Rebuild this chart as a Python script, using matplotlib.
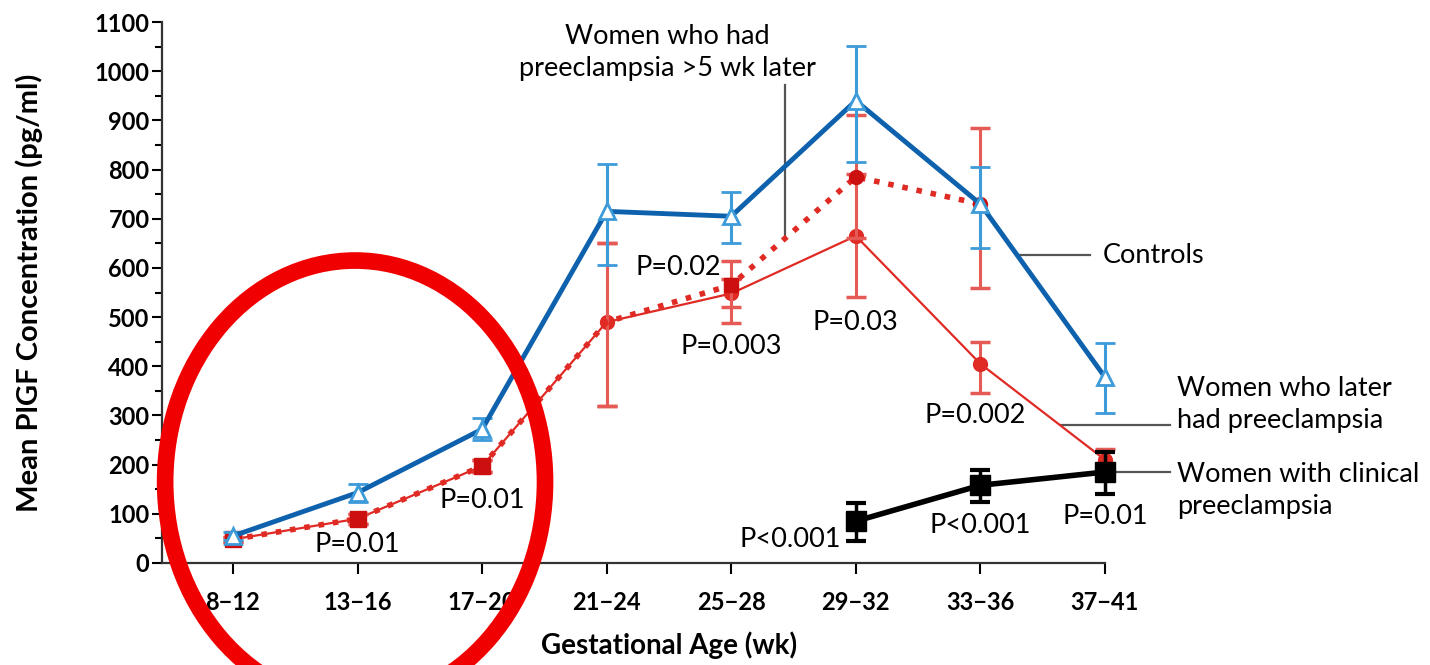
import matplotlib
matplotlib.use("Agg")
import matplotlib.pyplot as plt
from matplotlib.patches import Ellipse
import numpy as np

plt.rcParams['font.family'] = ['Lato', 'DejaVu Sans']

# Gestational age windows (weeks)
age_groups = ["8\u221212", "13\u221216", "17\u221220", "21\u221224",
              "25\u221228", "29\u221232", "33\u221236", "37\u221241"]

# Mean PlGF (pg/ml) with lower / upper error extents
controls = [55, 143, 272, 715, 705, 940, 730, 378]
controls_lo = [8, 18, 22, 110, 55, 125, 90, 73]
controls_hi = [8, 18, 22, 97, 50, 112, 75, 70]

later_pe = [48, 90, 197, 490, 548, 665, 405, 210]
later_pe_lo = [5, 10, 12, 170, 60, 125, 60, 20]
later_pe_hi = [5, 10, 12, 160, 30, 125, 45, 22]

late5_pe = [48, 90, 197, 490, 565, 785, 730]
late5_pe_lo = [5, 10, 12, 170, 45, 125, 170]
late5_pe_hi = [5, 10, 12, 160, 50, 125, 155]

clinical_idx = [5, 6, 7]
clinical_pe = [85, 158, 185]
clinical_lo = [40, 33, 45]
clinical_hi = [37, 32, 40]

# P-value labels: (x index, y value, text, horizontal alignment)
p_labels = [
    (1.0, 37, "P=0.01", "center"),
    (2.0, 128, "P=0.01", "center"),
    (3.92, 600, "P=0.02", "right"),
    (4.0, 441, "P=0.003", "center"),
    (5.0, 490, "P=0.03", "center"),
    (5.96, 299, "P=0.002", "center"),
    (4.47, 47, "P<0.001", "center"),
    (6.0, 77, "P<0.001", "center"),
    (7.0, 94, "P=0.01", "center"),
]

fig = plt.figure(figsize=(14.3, 6.65), dpi=100)
ax = fig.add_axes([0.1133, 0.1534, 0.8867, 0.8135])
x = np.arange(len(age_groups))

blue = "#0e62ad"
blue_err = "#3c9bd8"
red = "#e02a24"
red_err = "#e55a55"
dark_red = "#cc1010"
fs = 19.5

# Women who later had preeclampsia (thin solid red)
ax.errorbar(x, later_pe, yerr=[later_pe_lo, later_pe_hi], color=red, lw=1.6,
            ecolor=red_err, elinewidth=2.2, capsize=7, capthick=2.5, zorder=3,
            marker='o', ms=10, mfc=red, mec=red, clip_on=False)

# Women who had preeclampsia >5 wk later (dotted red)
x5 = x[:len(late5_pe)]
ax.errorbar(x5, late5_pe, yerr=[late5_pe_lo, late5_pe_hi], fmt='none',
            ecolor=red_err, elinewidth=2.2, capsize=7, capthick=2.5, zorder=4,
            clip_on=False)
ax.plot(x5, late5_pe, color=red, lw=4, ls=(0, (1, 1.6)), zorder=4)
ax.plot(x5[:3], late5_pe[:3], ls='none', marker='s', ms=11, color=dark_red, zorder=5)
ax.plot(x5[4:5], late5_pe[4:5], ls='none', marker='s', ms=10, color=dark_red, zorder=5)
ax.plot(x5[5:], late5_pe[5:], ls='none', marker='o', ms=10, color=dark_red, zorder=5)

# Controls (thick blue, open triangles)
ax.errorbar(x, controls, yerr=[controls_lo, controls_hi], color=blue, lw=3.5,
            ecolor=blue_err, elinewidth=2.2, capsize=7, capthick=2.5, zorder=6,
            marker='^', ms=11, mfc="white", mec=blue_err, mew=2, clip_on=False)

# Women with clinical preeclampsia (thick black squares)
ax.errorbar(clinical_idx, clinical_pe, yerr=[clinical_lo, clinical_hi],
            color="black", lw=4, ecolor="black", elinewidth=2.5, capsize=7,
            capthick=3, zorder=7, marker='s', ms=14, clip_on=False)

# Series labels with leader lines
lead = "#555555"
ax.plot([4.43, 4.43], [657, 972], color=lead, lw=1.6, zorder=2)
ax.text(3.49, 1039, "Women who had\npreeclampsia >5 wk later", ha="center",
        va="center", fontsize=fs, linespacing=1.35)

ax.plot([6.32, 6.88], [626, 626], color=lead, lw=1.6, zorder=2)
ax.text(6.98, 626, "Controls", ha="left", va="center", fontsize=fs)

ax.plot([6.65, 7.52], [281, 281], color=lead, lw=1.6, zorder=2)
ax.text(7.58, 323, "Women who later\nhad preeclampsia", ha="left", va="center",
        fontsize=fs, linespacing=1.35)

ax.plot([7.05, 7.52], [185, 185], color=lead, lw=1.6, zorder=2)
ax.text(7.58, 148, "Women with clinical\npreeclampsia", ha="left", va="center",
        fontsize=fs, linespacing=1.35)

for px, py, txt, ha in p_labels:
    ax.text(px, py, txt, ha=ha, va="center", fontsize=fs, zorder=8)

# Axes styling
ax.set_xlim(-0.57, 9.61)
ax.set_ylim(0, 1100)
ax.set_xticks(x)
ax.set_xticklabels(age_groups, fontsize=17, fontweight="bold")
ax.set_yticks(np.arange(0, 1101, 100))
ax.set_yticks(np.arange(50, 1100, 100), minor=True)
ax.tick_params(axis='y', labelsize=17, length=7, width=1.5, direction='out', pad=2)
ax.tick_params(axis='y', which='minor', length=5, width=1.5)
ax.tick_params(axis='x', length=8, width=1.5, pad=12)
for lab in ax.get_yticklabels():
    lab.set_fontweight("bold")
for side in ("top", "right"):
    ax.spines[side].set_visible(False)
for side in ("left", "bottom"):
    ax.spines[side].set_linewidth(1.6)
    ax.spines[side].set_color("#333333")
ax.spines['bottom'].set_bounds(-0.57, 7.0)

ax.set_xlabel("Gestational Age (wk)", fontsize=20, fontweight="bold")
ax.xaxis.set_label_coords(0.40, -0.152)
ax.xaxis.label.set_verticalalignment("center")
ax.set_ylabel("Mean PlGF Concentration (pg/ml)", fontsize=21, fontweight="bold")
ax.yaxis.set_label_coords(-0.105, 0.5)
ax.yaxis.label.set_verticalalignment("center")

# Highlight ring around the early-gestation values
ring = Ellipse((0.98, 165), width=3.05, height=900, fill=False, edgecolor="#f00000",
               lw=12, zorder=10, clip_on=False)
ax.add_patch(ring)

fig.savefig("out.png", dpi=100)
